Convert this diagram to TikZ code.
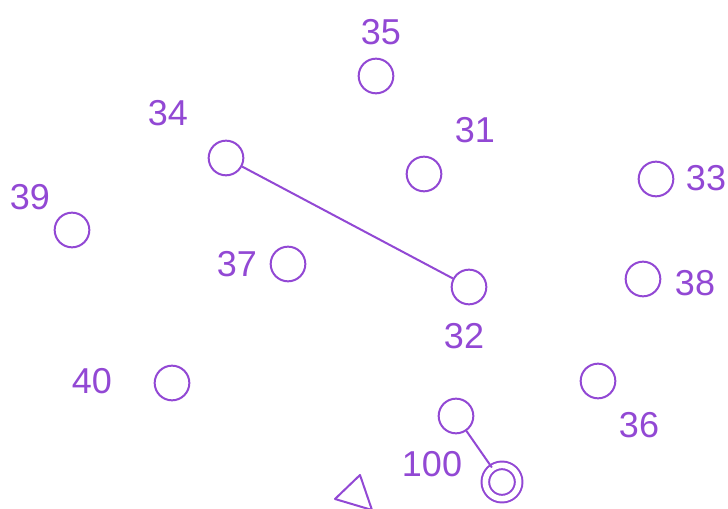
\documentclass[tikz,border=0pt]{standalone}
\usepackage{fontspec}
\setmainfont{Liberation Sans}
\usepackage{tikz}
\usetikzlibrary{positioning}
\definecolor{lila}{RGB}{146,72,212}

\begin{document}
\begin{tikzpicture}[x=0.75pt, y=-0.75pt]
    \tikzset{
        punkt/.style={circle, draw=lila, line width=1.5pt, minimum size=26pt, inner sep=0pt},
        doppelpunkt/.style={circle, draw=lila, line width=1.5pt, double=white, double distance=4.2pt, minimum size=25pt, inner sep=0pt},
        nummer/.style={text=lila, font=\fontsize{27}{30}\selectfont, inner sep=0pt},
        verbindung/.style={draw=lila, line width=1.5pt}
    }
    \useasboundingbox (0,0) rectangle (728,509);

    % Punkte mit Nummern
    \foreach \n / \x / \y / \lx / \ly in {35/376/76/381/32, 34/226/158/168/113, 31/424/174/475/130,
        33/656/179/706/178, 39/72/230/30/197, 37/288/264/237/264, 32/469/287/464/336,
        38/643/279/695/283, 40/172/383/92/381, 36/598/381/639/425, 100/456/416/432/464} {
        \node[punkt] (p\n) at (\x,\y) {};
        \node[nummer] (n\n) at (\lx,\ly) {\n};
    }

    % Festpunkt
    \node[doppelpunkt] (fest) at (502,482) {};

    % Dreieck
    \draw[lila, line width=1.5pt, line join=round] (335,499) -- (360,475) -- (372,510) -- cycle;

    % Verbindungen
    \draw[verbindung] (p34) -- (p32);
    \draw[verbindung] (p100) -- (fest);
\end{tikzpicture}
\end{document}
